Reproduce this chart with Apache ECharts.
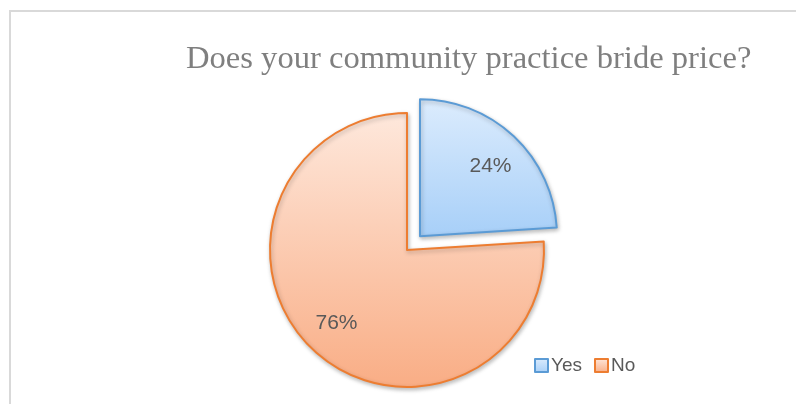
<!DOCTYPE html>
<html>
<head>
<meta charset="utf-8">
<style>html,body{margin:0;padding:0;background:#fff}#c{width:796px;height:404px}</style>
<script src="https://cdn.jsdelivr.net/npm/echarts@6/dist/echarts.min.js"></script>
</head>
<body>
<div id="c"></div>
<script>
var titleText = 'Does your community practice bride price?';
var categories = ['Yes', 'No'];
var percentages = [24, 76];

var fills = [
  new echarts.graphic.LinearGradient(0, 0, 0, 1, [{offset: 0, color: '#dcecfd'}, {offset: 1, color: '#a7cff8'}]),
  new echarts.graphic.LinearGradient(0, 0, 0, 1, [{offset: 0, color: '#fee8dc'}, {offset: 1, color: '#f9ad85'}])
];
var borders = ['#5b9bd5', '#ed7d31'];
var labelShiftY = [5, -2];

var chart = echarts.init(document.getElementById('c'), null, {renderer: 'canvas'});

var mainData = categories.map(function (c, i) {
  return {name: c, value: percentages[i], selected: i === 0,
    itemStyle: {color: fills[i], borderColor: borders[i], borderWidth: 2}};
});
var labelData = categories.map(function (c, i) {
  return {name: c, value: percentages[i], selected: i === 0};
});

chart.setOption({
  animation: false,
  title: {
    text: titleText, left: 181, top: 38,
    textStyle: {fontFamily: 'Liberation Serif', fontSize: 32.6, fontWeight: 'normal', color: '#7f7f7f'}
  },
  legend: {
    data: categories, left: 529, top: 351, itemWidth: 13, itemHeight: 13, itemGap: 12,
    icon: 'rect',
    textStyle: {fontFamily: 'Liberation Sans', fontSize: 19, color: '#595959', padding: [0, 0, 0, -2]}
  },
  graphic: [{
    type: 'rect', shape: {x: 10, y: 11, width: 800, height: 400},
    style: {fill: 'none', stroke: '#d9d9d9', lineWidth: 2}, silent: true, z: -1
  }],
  series: [{
    type: 'pie', center: [407, 250], radius: 137, startAngle: 90, clockwise: true,
    selectedMode: 'single', selectedOffset: 19,
    label: {show: false}, labelLine: {show: false},
    itemStyle: {shadowBlur: 4, shadowColor: 'rgba(0,0,0,0.25)', shadowOffsetX: 1, shadowOffsetY: 2},
    emphasis: {disabled: true},
    data: mainData
  }, {
    type: 'pie', center: [407, 250], radius: 200, startAngle: 90, clockwise: true,
    selectedMode: 'single', selectedOffset: 19, silent: true,
    itemStyle: {color: 'rgba(0,0,0,0)'},
    label: {show: true, position: 'inside', formatter: '{c}%', fontFamily: 'Liberation Sans', fontSize: 21, color: '#595959'},
    labelLine: {show: false},
    labelLayout: function (p) { return {dy: labelShiftY[p.dataIndex]}; },
    emphasis: {disabled: true},
    data: labelData
  }]
});
</script>
</body>
</html>
